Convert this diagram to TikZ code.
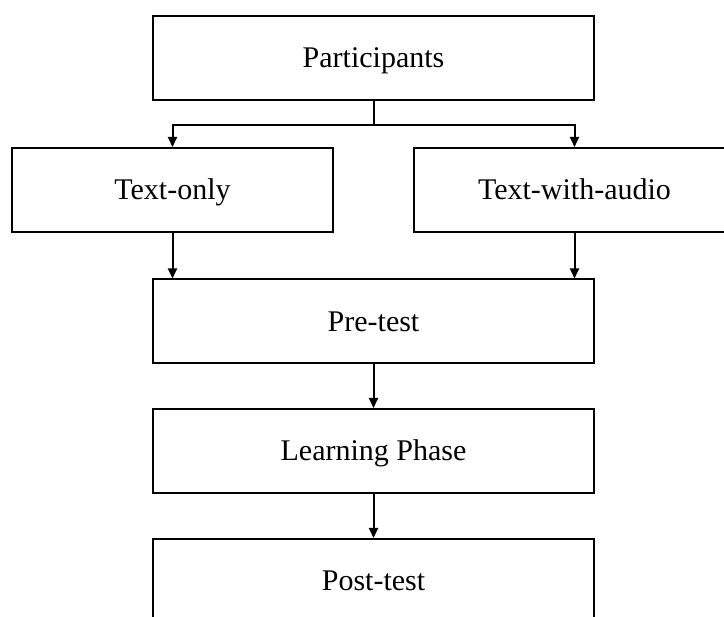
\documentclass[tikz,border=0pt]{standalone}
\usepackage{fontspec}
\setmainfont{Liberation Serif}
\usetikzlibrary{arrows.meta}
\tikzset{
  box/.style={draw=black, line width=2pt, fill=white, inner sep=0pt, text height=20pt, text depth=0pt, font=\fontsize{30}{34}\selectfont},
  wide/.style={box, minimum width=441pt, minimum height=84pt},
  narrow/.style={box, minimum width=321pt, minimum height=84pt},
  conn/.style={line width=2pt, -{Triangle[length=10pt,width=9pt]}},
}
\begin{document}
\begin{tikzpicture}[x=1pt,y=-1pt]
\useasboundingbox (0,0) rectangle (724,617);
\clip (0,0) rectangle (724,617);
\node[wide] (part) at (373.5,58) {Participants};
\node[narrow] (tonly) at (172.5,190) {Text-only};
\node[narrow] (taudio) at (574.5,190) {Text-with-audio};
\node[wide] (pre) at (373.5,321.5) {Pre-test};
\node[wide] (learn) at (373.5,451) {Learning Phase};
\node[wide] (post) at (373.5,581) {Post-test};
\coordinate (split) at (373.5,125);
\draw[line width=2pt] (part.south) -- (split);
\draw[conn] (split) -| (tonly.north);
\draw[conn] (split) -| (taudio.north);
\draw[conn] (tonly.south) -- (tonly.south |- pre.north);
\draw[conn] (taudio.south) -- (taudio.south |- pre.north);
\draw[conn] (pre.south) -- (learn.north);
\draw[conn] (learn.south) -- (post.north);
\end{tikzpicture}
\end{document}
